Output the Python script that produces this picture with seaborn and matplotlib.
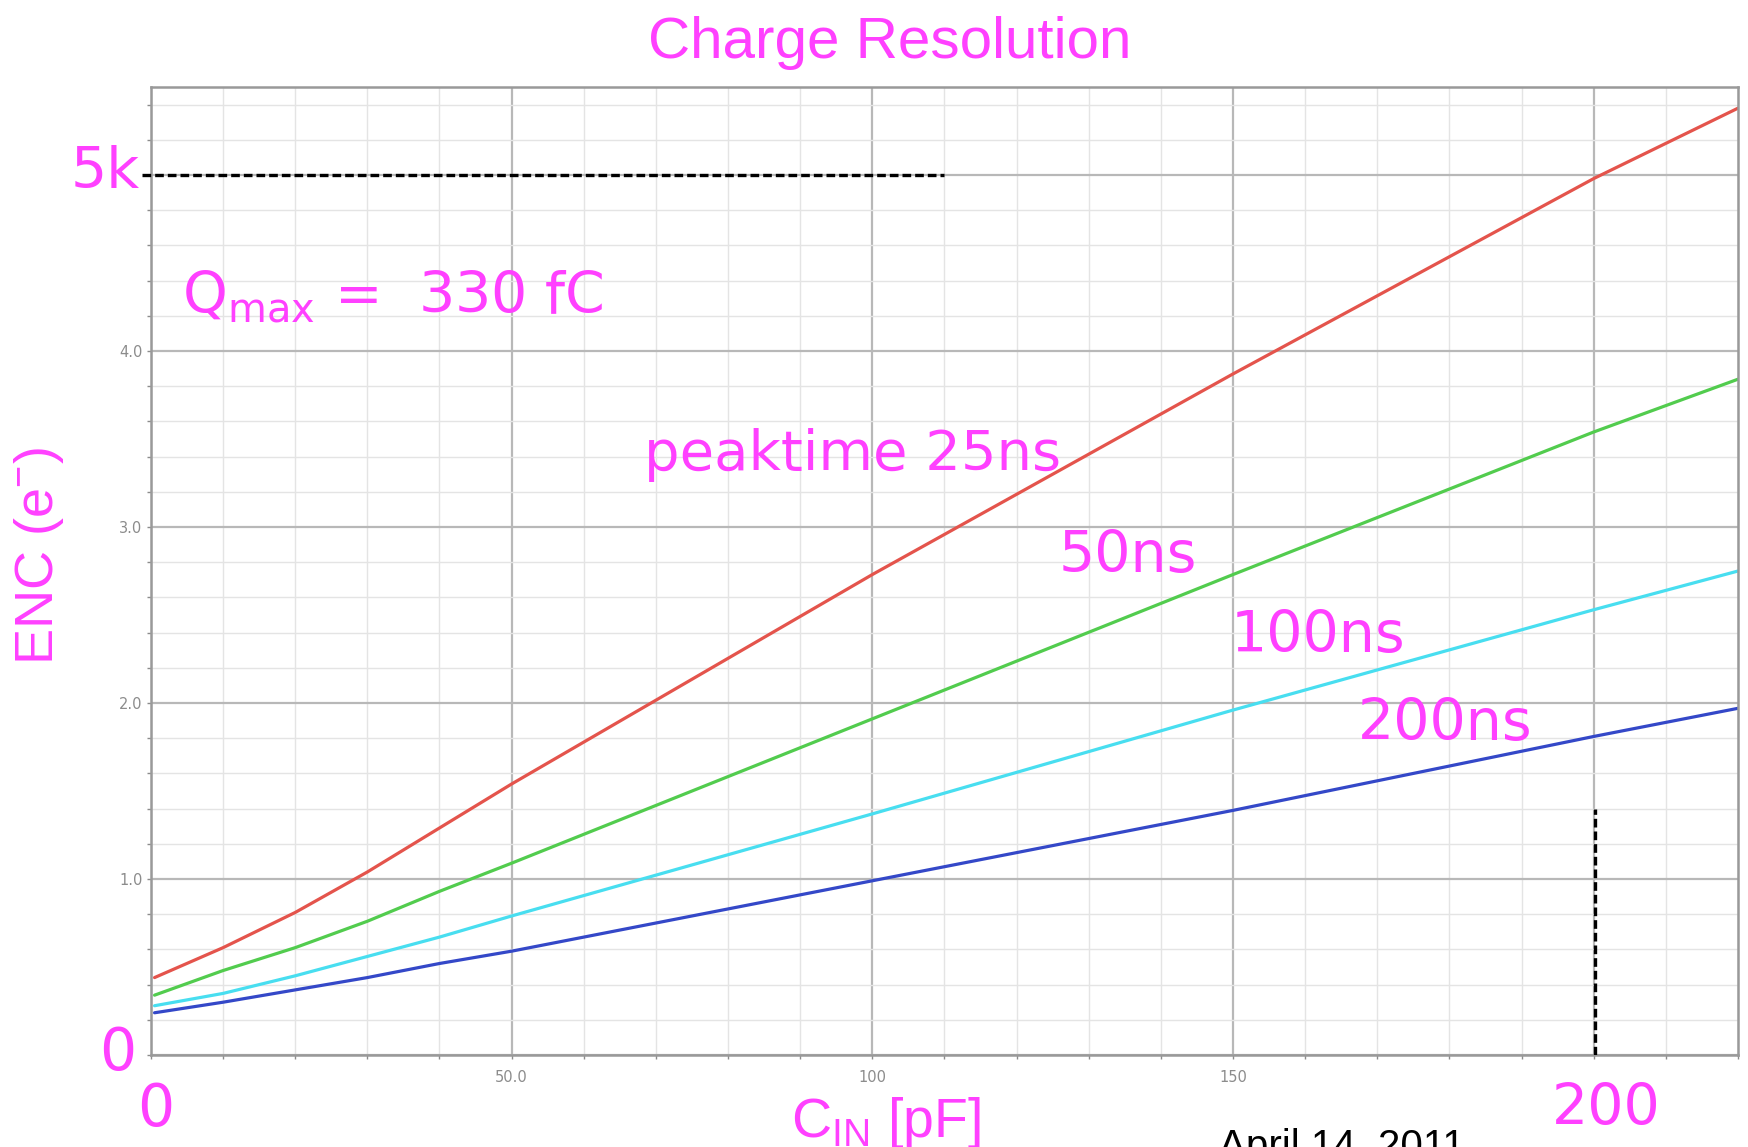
"""Charge resolution (ENC vs input capacitance) for several peaking times."""
import pandas as pd
import matplotlib.pyplot as plt
import seaborn as sns
from matplotlib.ticker import MultipleLocator, FixedLocator

# input capacitance [pF] and ENC [k e-]
c_in = [0.5, 10, 20, 30, 40, 50, 100, 150, 200, 220]
enc_25ns = [0.44, 0.61, 0.81, 1.04, 1.29, 1.54, 2.73, 3.87, 4.98, 5.38]
enc_50ns = [0.34, 0.48, 0.61, 0.76, 0.93, 1.09, 1.91, 2.73, 3.54, 3.84]
enc_100ns = [0.28, 0.35, 0.45, 0.56, 0.67, 0.79, 1.37, 1.96, 2.53, 2.75]
enc_200ns = [0.24, 0.30, 0.37, 0.44, 0.52, 0.59, 0.99, 1.39, 1.81, 1.97]
peaktimes = ['25ns', '50ns', '100ns', '200ns']

# reference lines (5k limit, 200 pF marker)
qmax_x = [-1.2, 110]
qmax_y = [5.0, 5.0]
cmax_x = [200.2, 200.2]
cmax_y = [0.0, 1.4]

x_ticks = [0, 50, 100, 150, 200]
x_ticklabels = ['', '50.0', '100', '150', '']
y_ticks = [0, 1, 2, 3, 4, 5]
y_ticklabels = ['', '1.0', '2.0', '3.0', '4.0', '']

PINK = '#ff40ff'
palette = {'25ns': '#e4544c', '50ns': '#52cc4e', '100ns': '#48def0', '200ns': '#3448c8'}

df = pd.concat([
    pd.DataFrame({'c_in': c_in, 'enc': vals, 'peaktime': pt})
    for pt, vals in zip(peaktimes, [enc_25ns, enc_50ns, enc_100ns, enc_200ns])
])

sns.set_theme(style="white")
plt.rcParams['font.family'] = ['DejaVu Sans']

fig = plt.figure(figsize=(17.49, 11.47), dpi=100)
ax = fig.add_axes([0.0863, 0.0802, 0.9074, 0.8439])

ax.set_xlim(0, 220)
ax.set_ylim(0, 5.5)

# grid: light minor, darker major
ax.xaxis.set_major_locator(FixedLocator(x_ticks))
ax.yaxis.set_major_locator(FixedLocator(y_ticks))
ax.xaxis.set_minor_locator(MultipleLocator(10))
ax.yaxis.set_minor_locator(MultipleLocator(0.2))
ax.grid(which='minor', color='#e4e4e4', lw=1.0)
ax.grid(which='major', color='#b8b8b8', lw=1.6)
ax.set_axisbelow(True)

sns.lineplot(data=df, x='c_in', y='enc', hue='peaktime', palette=palette,
             hue_order=peaktimes, lw=2.3, legend=False, ax=ax)

ax.plot(qmax_x, qmax_y, color='black', lw=2.4, ls=(0, (2.6, 1.2)), clip_on=False, zorder=5)
ax.plot(cmax_x, cmax_y, color='black', lw=2.4, ls=(0, (2.6, 1.2)), zorder=5)

ax.set_xticklabels(x_ticklabels)
ax.set_yticklabels(y_ticklabels)
ax.tick_params(which='both', direction='out', colors='#8c8c8c', labelcolor='#8c8c8c',
               labelsize=10.5, length=3, width=1, pad=3)
ax.tick_params(axis='x', which='major', pad=8)
ax.tick_params(left=True, bottom=True, which='both')
ax.set_xlabel('')
ax.set_ylabel('')
for sp in ax.spines.values():
    sp.set_color('#999999')
    sp.set_linewidth(1.8)

sans = ['Liberation Sans', 'DejaVu Sans']
lucida = ['DejaVu Sans']

fig.text(0.5088, 0.9494, 'Charge Resolution', color=PINK, fontsize=42,
         family=sans, ha='center', va='baseline')
fig.text(0.0223, 0.5153, r'ENC (e$^{\mathregular{-}}$)', color=PINK, fontsize=39,
         family=sans, ha='center', va='center', rotation=90)
fig.text(0.4520, 0.0087, r'C$_{\mathregular{IN}}$ [pF]', color=PINK, fontsize=40,
         family=sans, ha='left', va='baseline')

fig.text(0.0800, 0.8361, '5k', color=PINK, fontsize=41, family=lucida,
         ha='right', va='baseline')
fig.text(0.0780, 0.0671, '0', color=PINK, fontsize=42, family=lucida,
         ha='right', va='baseline')
fig.text(0.0892, 0.0183, '0', color=PINK, fontsize=42, family=lucida,
         ha='center', va='baseline')
fig.text(0.9182, 0.0192, '200', color=PINK, fontsize=41, family=lucida,
         ha='center', va='baseline')

fig.text(0.1040, 0.7271, r'Q$_{\mathregular{max}}$ =  330 fC', color=PINK, fontsize=41,
         family=lucida, ha='left', va='baseline')
fig.text(0.3680, 0.5902, 'peaktime 25ns', color=PINK, fontsize=40.3, family=lucida,
         ha='left', va='baseline')
fig.text(0.6055, 0.5013, '50ns', color=PINK, fontsize=41, family=lucida,
         ha='left', va='baseline')
fig.text(0.7035, 0.4316, '100ns', color=PINK, fontsize=41, family=lucida,
         ha='left', va='baseline')
fig.text(0.7762, 0.3548, '200ns', color=PINK, fontsize=41, family=lucida,
         ha='left', va='baseline')

fig.text(0.697, -0.0096, 'April 14, 2011', color='black', fontsize=29,
         family=sans, ha='left', va='baseline')

fig.savefig('out.png', dpi=100)
